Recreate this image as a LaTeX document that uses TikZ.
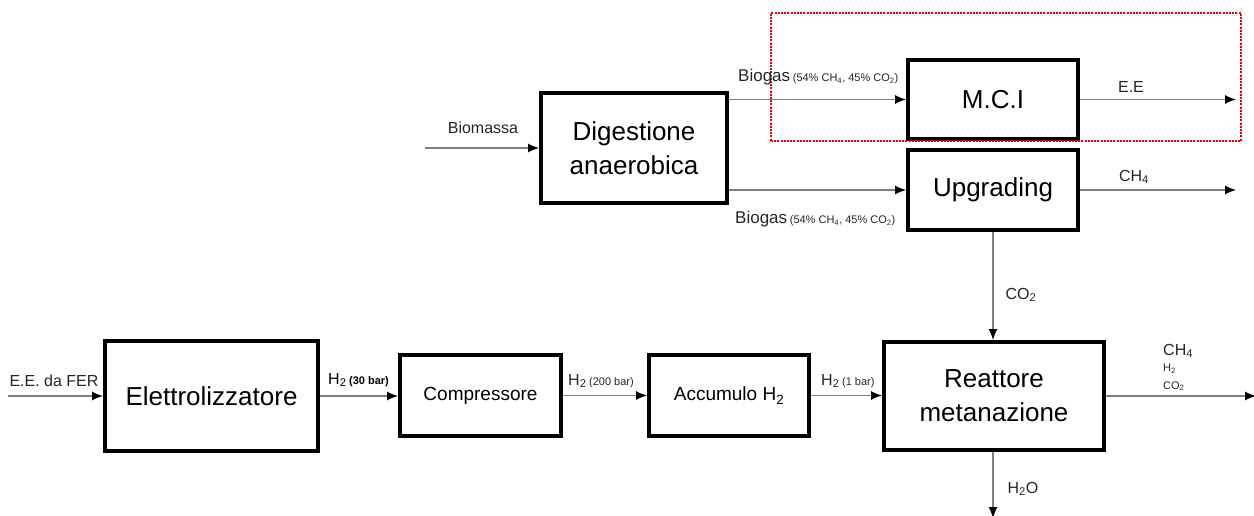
\documentclass[tikz,border=0pt]{standalone}
\usepackage{fontspec}
\setmainfont{Liberation Sans}
\usetikzlibrary{arrows.meta}
\tikzset{
  box/.style={draw=black, line width=4pt, fill=white, align=center, inner sep=0pt, font=\fontsize{26}{34}\selectfont},
  smallbox/.style={box, font=\fontsize{19}{22}\selectfont},
  flow/.style={draw=black!50, line width=1.2pt, -{Latex[length=11pt,width=9pt,color=black]}},
  lbl/.style={inner sep=0pt, text=black!85, font=\fontsize{16}{18}\selectfont},
  subtxt/.style={font=\fontsize{11}{12}\selectfont},
}
\newcommand{\sbs}[1]{\textsubscript{#1}}
\newcommand{\note}[1]{{\fontsize{11}{12}\selectfont #1}}
\begin{document}
\begin{tikzpicture}[x=1pt,y=-1pt]
\useasboundingbox[fill=white] (0,0) rectangle (1254,516);

% process blocks
\node[box, minimum width=186pt, minimum height=110pt] (dig) at (634,148) {Digestione\\anaerobica};
\node[box, minimum width=170pt, minimum height=79pt] (mci) at (993,99.5) {M.C.I};
\node[box, minimum width=170pt, minimum height=80pt] (upg) at (993,190) {Upgrading};
\node[box, minimum width=213pt, minimum height=110pt] (ele) at (211.5,396) {Elettrolizzatore};
\node[smallbox, minimum width=161pt, minimum height=81pt] (comp) at (480.5,395.5) {Compressore};
\node[smallbox, minimum width=160pt, minimum height=81pt] (acc) at (729,395.5) {Accumulo H\sbs{2}};
\node[box, minimum width=220pt, minimum height=108pt] (reat) at (994,396) {Reattore\\metanazione};

% dotted frame round the engine branch
\node[draw=red!90!black, line width=2pt, dash pattern=on 2pt off 1.2pt, minimum width=470pt, minimum height=128pt, inner sep=0pt] (frame) at (1006,77) {};

% free ends
\coordinate (bioin) at (425,148);
\coordinate (eeout) at (1236,99.5);
\coordinate (ch4out) at (1236,190);
\coordinate (ferin) at (8,396);
\coordinate (gasout) at (1256,396);
\coordinate (h2oout) at (993,518);

% connectors
\draw[flow] (bioin) -- (dig.west);
\draw[flow] (dig.east |- mci.west) -- (mci.west);
\draw[flow] (dig.east |- upg.west) -- (upg.west);
\draw[flow] (mci.east) -- (eeout);
\draw[flow] (upg.east) -- (ch4out);
\draw[flow] (upg.south) -- (upg.south |- reat.north);
\draw[flow] (ferin) -- (ele.west);
\draw[flow] (ele.east) -- (ele.east -| comp.west);
\draw[flow] (comp.east) -- (comp.east -| acc.west);
\draw[flow] (acc.east) -- (acc.east -| reat.west);
\draw[flow] (reat.east) -- (gasout);
\draw[flow] (reat.south -| h2oout) -- (h2oout);

% stream labels
\node[lbl] (lbio) at (483,128) {Biomassa};
\node[lbl, anchor=west] (lbg1) at (738,77) {{\fontsize{17}{18}\selectfont Biogas}\,\note{(54\% CH\sbs{4}, 45\% CO\sbs{2})}};
\node[lbl, anchor=west] (lbg2) at (735,219) {{\fontsize{17}{18}\selectfont Biogas}\,\note{(54\% CH\sbs{4}, 45\% CO\sbs{2})}};
\node[lbl] (lee) at (1131,87) {E.E};
\node[lbl] (lch4) at (1134,177) {CH\sbs{4}};
\node[lbl] (lco2) at (1021,295) {CO\sbs{2}};
\node[lbl] (lfer) at (54,381) {E.E. da FER};
\node[lbl, text=black, anchor=west] (lh30) at (328,380) {H\sbs{2}\,\note{\bfseries(30 bar)}};
\node[lbl, anchor=west] (lh200) at (568,381) {H\sbs{2}\,\note{(200 bar)}};
\node[lbl, anchor=west] (lh1) at (821,381) {H\sbs{2}\,\note{(1 bar)}};
\node[lbl, anchor=west] (lout1) at (1163,351) {CH\sbs{4}};
\node[lbl, anchor=west, subtxt] (lout2) at (1163,369) {H\sbs{2}};
\node[lbl, anchor=west, subtxt] (lout3) at (1163,386) {CO\sbs{2}};
\node[lbl] (lh2o) at (1023,489) {H\sbs{2}O};
\end{tikzpicture}
\end{document}
